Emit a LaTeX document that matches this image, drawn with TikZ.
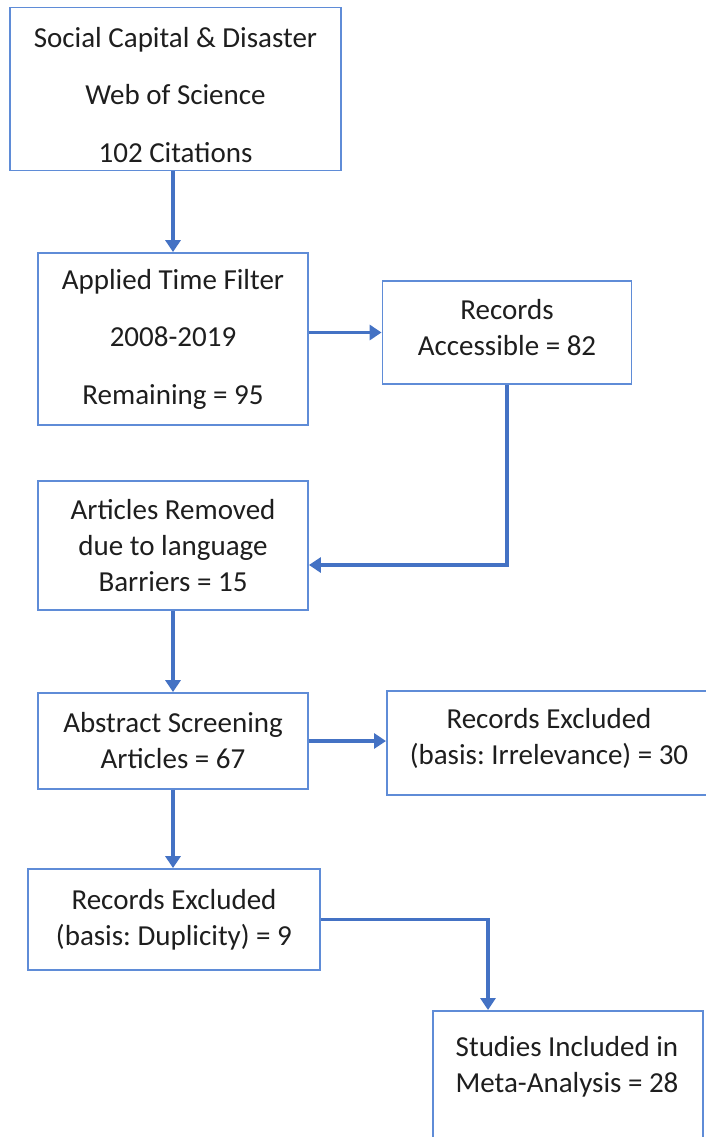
\documentclass[tikz,border=0pt]{standalone}
\usepackage{fontspec}
\setmainfont{Carlito}
\frenchspacing
\usetikzlibrary{arrows.meta,calc}
\definecolor{boxblue}{RGB}{95,140,215}
\definecolor{arrblue}{RGB}{68,114,196}
\definecolor{txt}{RGB}{30,30,30}
\tikzset{
  stepbox/.style={draw=boxblue, line width=1.8pt, rectangle, inner sep=0pt,
    align=center, text=txt, font=\fontsize{29}{36}\selectfont},
  boxtext/.style={text=txt, align=center, inner sep=0pt, font=\fontsize{29}{36}\selectfont},
  wide/.style={font=\fontsize{29}{57.5}\selectfont},
  flow/.style={draw=arrblue, line width=3.2pt, -{Triangle[length=12pt,width=15pt]}},
}
\begin{document}
\begin{tikzpicture}[x=1pt,y=-1pt]
\useasboundingbox (0,0) rectangle (706,1137);
\begin{scope}
\clip (0,0) rectangle (706,1137);
\node[stepbox, minimum width=331pt, minimum height=163pt] (b1) at (175.5,89) {};
\node[boxtext, wide] (b1t) at (175.5,95)
  {Social Capital \& Disaster\\Web of Science\\102 Citations};
\node[stepbox, wide, minimum width=270pt, minimum height=172pt] (b2) at (173,339)
  {Applied Time Filter\\2008-2019\\Remaining = 95};
\node[stepbox, minimum width=249pt, minimum height=103pt] (b3) at (507,332.5) {};
\node[boxtext] (b3t) at (507,328)
  {Records\\Accessible = 82};
\node[stepbox, minimum width=270pt, minimum height=129pt] (b4) at (173,545.5)
  {Articles Removed\\due to language\\Barriers = 15};
\node[stepbox, minimum width=270pt, minimum height=96pt] (b5) at (173,741)
  {Abstract Screening\\Articles = 67};
\node[stepbox, minimum width=340pt, minimum height=104pt, anchor=west] (b6) at (386,743)
  {};
\node[boxtext] (b6t) at (549,738)
  {Records Excluded\\(basis: Irrelevance) = 30};
\node[stepbox, minimum width=292pt, minimum height=101pt] (b7) at (174,919.5)
  {Records Excluded\\(basis: Duplicity) = 9};
\node[stepbox, minimum width=270pt, minimum height=160pt, anchor=north west] (b8) at (432,1010)
  {};
\node[boxtext] (b8t) at (567,1067)
  {Studies Included in\\Meta-Analysis = 28};
\end{scope}
\coordinate (turn3) at ($(b4.east)+(0,19.5)$);
\coordinate (drop8) at ($(b8.north west)+(56,0)$);
\draw[flow] (b1.south -| b2.north) -- (b2.north);
\draw[flow] (b2.east |- b3.west) -- (b3.west);
\draw[flow] (b3.south) |- (turn3);
\draw[flow] (b4.south) -- (b5.north);
\draw[flow] (b5.east) -- (b5.east -| b6.west);
\draw[flow] (b5.south) -- (b5.south |- b7.north);
\draw[flow] (b7.east) -| (drop8);
\end{tikzpicture}
\end{document}
